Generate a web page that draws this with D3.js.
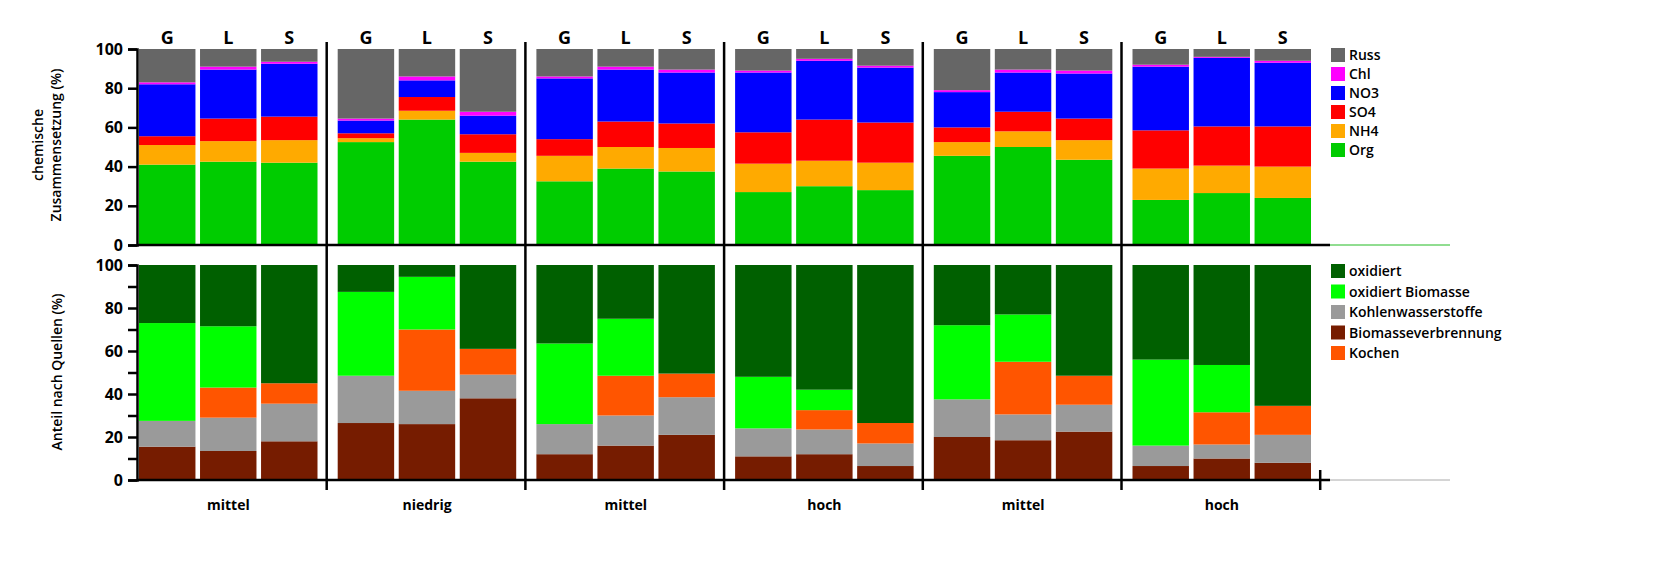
<!DOCTYPE html>
<html><head><meta charset="utf-8">
<script src="https://cdn.jsdelivr.net/npm/d3@7"></script>
<style>body{margin:0;background:#fff}text{font-family:"Open Sans",Arial,sans-serif}</style>
</head><body><svg id="c" width="1664" height="580"></svg>
<script>
const groups = ["mittel","niedrig","mittel","hoch","mittel","hoch"];
const sites = ["G","L","S"];
// top panel: percentage per component, bars in order G,L,S per group
const topKeys = ["Org","NH4","SO4","NO3","Chl","Russ"];
const topColors = ["#00cc00","#ffaa00","#ff0000","#0000ff","#ff00ff","#666666"];
const Org  = [41,42.5,42, 52.5,64,42.5, 32.5,39,37.5, 27,30,28, 45.5,50,43.5, 23,26.5,24];
const NH4  = [10,10.5,11.5, 2,4.5,4.5, 13,11,12, 14.5,13,14, 7,8,10, 16,14,16];
const SO4  = [4.5,11.5,12, 2.5,7,9.5, 8.5,13,12.5, 16,21,20.5, 7.5,10,11, 19.5,20,20.5];
const NO3  = [26.5,25,27, 6.5,8.5,9.5, 31,26.5,26, 30.5,30,28, 18,20,23, 32.5,35,32.5];
const Chl  = [1,1.5,1, 1,2,2, 1,1.5,1.5, 1,1,1, 1,1.5,1.5, 1,0.5,1];
const Russ = [17,9,6.5, 35.5,14,32, 14,9,10.5, 11,5,8.5, 21,10.5,11, 8,4,6];
// bottom panel: source apportionment
const botKeys = ["Biomasseverbrennung","Kohlenwasserstoffe","Kochen","oxidiert Biomasse","oxidiert"];
const botColors = ["#761c00","#9a9a9a","#ff5500","#00ff00","#006000"];
const Biomasseverbrennung = [15.5,13.5,18, 26.5,26,38, 12,16,21, 11,12,6.5, 20,18.5,22.5, 6.5,10,8];
const Kohlenwasserstoffe  = [12,15.5,17.5, 22,15.5,11, 14,14,17.5, 13,11.5,10.5, 17.5,12,12.5, 9.5,6.5,13];
const Kochen              = [0,14,9.5, 0,28.5,12, 0,18.5,11, 0,9,9.5, 0,24.5,13.5, 0,15,13.5];
const oxidiertBiomasse    = [45.5,28.5,0, 39,24.5,0, 37.5,26.5,0, 24,9.5,0, 34.5,22,0, 40,22,0];
const oxidiert            = [27,28.5,55, 12.5,5.5,39, 36.5,25,50.5, 52,58,73.5, 28,23,51.5, 44,46.5,65.5];
const botLegend = ["oxidiert","oxidiert Biomasse","Kohlenwasserstoffe","Biomasseverbrennung","Kochen"];
const yTicks = [0,20,40,60,80,100];

const svg = d3.select("#c");
const x0 = 129, gw = 198.7;
const gx = d3.scaleBand().domain(d3.range(6)).range([x0, x0+6*gw]);
const bx = d3.scaleBand().domain(sites).range([10, 188.5]).paddingInner(0.075);
const yT = d3.scaleLinear().domain([0,100]).range([245,49]);
const yB = d3.scaleLinear().domain([0,100]).range([480,265]);

function drawPanel(arrs, colors, y){
  d3.range(18).forEach(i=>{
    const g = Math.floor(i/3), s = sites[i%3];
    let cum = 0;
    arrs.forEach((a,k)=>{
      const v = a[i]; if(v<=0){return;}
      svg.append("rect").attr("x", gx(g)+bx(s)).attr("width", bx.bandwidth())
        .attr("y", y(cum+v)).attr("height", y(cum)-y(cum+v)).attr("fill", colors[k]);
      cum += v;
    });
  });
}
drawPanel([Org,NH4,SO4,NO3,Chl,Russ], topColors, yT);
drawPanel([Biomasseverbrennung,Kohlenwasserstoffe,Kochen,oxidiertBiomasse,oxidiert], botColors, yB);

const axT = svg.append("g").attr("transform","translate(137,0)")
  .call(d3.axisLeft(yT).tickValues(yTicks).tickSize(9).tickPadding(5));
const axB = svg.append("g").attr("transform","translate(137,0)")
  .call(d3.axisLeft(yB).tickValues(d3.range(0,101,10)).tickSize(9).tickPadding(5)
    .tickFormat(d=>yTicks.includes(d)?d:""));
[axT,axB].forEach(a=>{a.select(".domain").attr("stroke","#000").attr("stroke-width",2.5);
  a.selectAll("line").attr("stroke","#000").attr("stroke-width",2.5);
  a.selectAll("text").attr("font-size",16).attr("font-weight",700).attr("fill","#000").attr("font-family","Liberation Sans, Arial");});
svg.append("line").attr("x1",137).attr("x2",1330).attr("y1",245).attr("y2",245).attr("stroke","#000").attr("stroke-width",2.5);
svg.append("line").attr("x1",1330).attr("x2",1450).attr("y1",245).attr("y2",245).attr("stroke","#22bb22").attr("stroke-width",1);
svg.append("line").attr("x1",137).attr("x2",1330).attr("y1",480).attr("y2",480).attr("stroke","#000").attr("stroke-width",2.5);
svg.append("line").attr("x1",1330).attr("x2",1450).attr("y1",480).attr("y2",480).attr("stroke","#aaa").attr("stroke-width",1);
d3.range(1,7).forEach(i=>{
  const xx = gx(0)+i*gw - 1;
  svg.append("line").attr("x1",xx).attr("x2",xx).attr("y1", i<6?42:470).attr("y2",490).attr("stroke","#000").attr("stroke-width",2.5);
});
d3.range(18).forEach(i=>{
  const g = Math.floor(i/3), s = sites[i%3];
  svg.append("text").attr("x", gx(g)+bx(s)+bx.bandwidth()/2).attr("y",44).attr("text-anchor","middle")
    .attr("font-size",18).attr("font-weight",700).attr("font-family","Liberation Sans, Arial").text(s);
});
groups.forEach((t,g)=>{
  svg.append("text").attr("x", gx(g)+gw/2).attr("y",510).attr("text-anchor","middle")
    .attr("font-size",14).attr("font-weight",700).text(t);
});
const t1 = svg.append("text").attr("transform","translate(52,145) rotate(-90)").attr("text-anchor","middle")
  .attr("font-size",14).attr("font-weight",600);
t1.append("tspan").attr("x",0).attr("dy",-9).text("chemische");
t1.append("tspan").attr("x",0).attr("dy",18).text("Zusammensetzung (%)");
svg.append("text").attr("transform","translate(62,372) rotate(-90)").attr("text-anchor","middle")
  .attr("font-size",14).attr("font-weight",600).text("Anteil nach Quellen (%)");
const legT = topKeys.slice().reverse(), legTC = topColors.slice().reverse();
legT.forEach((k,i)=>{
  const y = 55+i*19;
  svg.append("rect").attr("x",1331).attr("y",y-7).attr("width",14).attr("height",14).attr("fill",legTC[i]);
  svg.append("text").attr("x",1349).attr("y",y+5).attr("font-size",14).attr("font-weight",600).text(k);
});
botLegend.forEach((k,i)=>{
  const y = 271+i*20.5;
  svg.append("rect").attr("x",1331).attr("y",y-7).attr("width",14).attr("height",14).attr("fill",botColors[botKeys.indexOf(k)]);
  svg.append("text").attr("x",1349).attr("y",y+5).attr("font-size",14).attr("font-weight",600).text(k);
});
</script></body></html>
